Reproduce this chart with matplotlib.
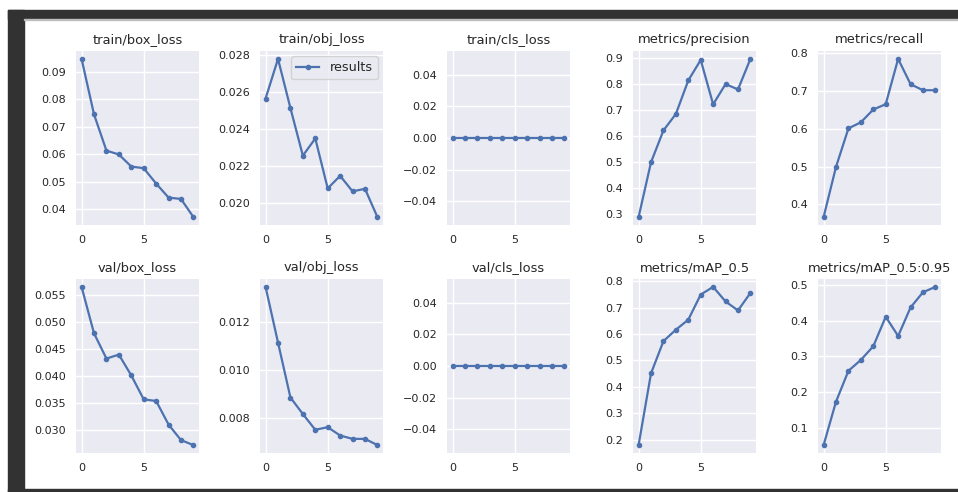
import matplotlib
matplotlib.use("Agg")
import matplotlib.pyplot as plt
from matplotlib.patches import Rectangle

# epochs and per-panel values
epochs = list(range(10))

titles = ["train/box_loss", "train/obj_loss", "train/cls_loss", "metrics/precision", "metrics/recall",
          "val/box_loss", "val/obj_loss", "val/cls_loss", "metrics/mAP_0.5", "metrics/mAP_0.5:0.95"]

train_box_loss = [0.0947, 0.0745, 0.0613, 0.0599, 0.0555, 0.0549, 0.0493, 0.0442, 0.0437, 0.0371]
train_obj_loss = [0.02566, 0.02780, 0.02514, 0.02257, 0.02350, 0.02080, 0.02148, 0.02064, 0.02078, 0.01925]
train_cls_loss = [0.0] * 10
precision = [0.289, 0.499, 0.621, 0.684, 0.8125, 0.891, 0.721, 0.7985, 0.778, 0.895]
recall = [0.366, 0.499, 0.601, 0.617, 0.651, 0.665, 0.785, 0.718, 0.702, 0.702]
val_box_loss = [0.05654, 0.04794, 0.04327, 0.04400, 0.04014, 0.03571, 0.03541, 0.03104, 0.02816, 0.02724]
val_obj_loss = [0.01347, 0.01114, 0.00884, 0.00815, 0.00749, 0.00760, 0.00725, 0.00711, 0.00711, 0.00685]
val_cls_loss = [0.0] * 10
map_05 = [0.180, 0.451, 0.573, 0.616, 0.654, 0.749, 0.778, 0.723, 0.689, 0.755]
map_05_095 = [0.0506, 0.1727, 0.2594, 0.290, 0.3284, 0.4114, 0.3573, 0.4375, 0.4804, 0.4953]

series = [train_box_loss, train_obj_loss, train_cls_loss, precision, recall,
          val_box_loss, val_obj_loss, val_cls_loss, map_05, map_05_095]

yticks = [
    [0.04, 0.05, 0.06, 0.07, 0.08, 0.09],
    [0.020, 0.022, 0.024, 0.026, 0.028],
    [-0.04, -0.02, 0.00, 0.02, 0.04],
    [0.3, 0.4, 0.5, 0.6, 0.7, 0.8, 0.9],
    [0.4, 0.5, 0.6, 0.7, 0.8],
    [0.030, 0.035, 0.040, 0.045, 0.050, 0.055],
    [0.008, 0.010, 0.012],
    [-0.04, -0.02, 0.00, 0.02, 0.04],
    [0.2, 0.3, 0.4, 0.5, 0.6, 0.7, 0.8],
    [0.1, 0.2, 0.3, 0.4, 0.5],
]
yfmt = ["%.2f", "%.3f", "%.2f", "%.1f", "%.1f", "%.3f", "%.3f", "%.2f", "%.1f", "%.1f"]

W, H = 958, 492
fig = plt.figure(figsize=(W / 100, H / 100), dpi=100, facecolor="white")

# dark screenshot frame
dark = "#323232"
fig.patches.append(Rectangle((8 / W, 0), 16 / W, (H - 10) / H, transform=fig.transFigure, color=dark, zorder=0))
fig.patches.append(Rectangle((8 / W, (H - 19) / H), (W - 8) / W, 9 / H, transform=fig.transFigure, color=dark, zorder=0))
fig.patches.append(Rectangle((8 / W, 0), (W - 8) / W, 3.5 / H, transform=fig.transFigure, color=dark, zorder=0))
fig.patches.append(Rectangle((24 / W, (H - 20) / H), (W - 24) / W, 1 / H, transform=fig.transFigure, color="#bdbdbd", zorder=0))

lefts = [76, 260, 447, 633, 818]
tops = [51, 279]
aw, ah = 123, 174
text_c = "#262626"

for i in range(10):
    r, c = divmod(i, 5)
    ax = fig.add_axes([lefts[c] / W, 1 - (tops[r] + ah) / H, aw / W, ah / H])
    ax.set_facecolor("#EAEAF2")
    for s in ax.spines.values():
        s.set_visible(False)
    ax.grid(True, color="white", linewidth=1.0)
    ax.set_axisbelow(True)
    ax.plot(epochs, series[i], marker=".", color="#4C72B0", linewidth=1.6, markersize=6, label="results")
    ax.set_xticks([0, 5])
    ax.set_yticks(yticks[i])
    ax.set_yticklabels([yfmt[i] % v for v in yticks[i]])
    if "cls" in titles[i]:
        ax.set_yticklabels(["\u22120.04", "\u22120.02", "0.00", "0.02", "0.04"])
        ax.set_ylim(-0.055, 0.055)
    ax.tick_params(length=0, labelsize=8, colors=text_c, pad=7)
    ax.set_title(titles[i], fontsize=9.4, color=text_c, pad=6)
    if i == 1:
        leg = ax.legend(loc="upper right", fontsize=9.2, frameon=True, facecolor="#EAEAF2",
                        edgecolor="#cccccc", borderaxespad=0.4, handlelength=1.8)
        for t in leg.get_texts():
            t.set_color(text_c)

fig.savefig("out.png", dpi=100, facecolor="white")
